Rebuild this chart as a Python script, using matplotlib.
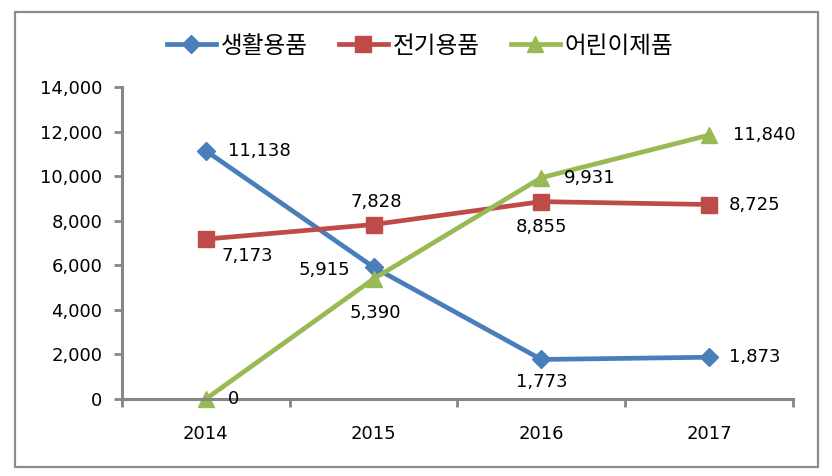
import matplotlib
matplotlib.use('Agg')
import matplotlib.pyplot as plt
from matplotlib.patches import Rectangle

plt.rcParams['font.family'] = ['Noto Sans CJK KR', 'DejaVu Sans']

years = ['2014', '2015', '2016', '2017']
daily = [11138, 5915, 1773, 1873]
electric = [7173, 7828, 8855, 8725]
kids = [0, 5390, 9931, 11840]
names = ['생활용품', '전기용품', '어린이제품']

# label offsets (points) for each data label
daily_off = [(16, 0, 'left', 'center'), (-17, -2, 'right', 'center'), (0, -10, 'center', 'top'), (14, 0, 'left', 'center')]
elec_off = [(11, -6, 'left', 'top'), (2, 10, 'center', 'bottom'), (0, -12, 'center', 'top'), (14, 0, 'left', 'center')]
kids_off = [(16, 0, 'left', 'center'), (1, -18, 'center', 'top'), (16, 0, 'left', 'center'), (17, 0, 'left', 'center')]

fig = plt.figure(figsize=(8.32, 4.76), dpi=100)
ax = fig.add_axes([0.1466, 0.1618, 0.8065, 0.6555])
fig.patches.append(Rectangle((15 / 832, 9 / 476), 803 / 832, 455 / 476, transform=fig.transFigure,
                             fill=False, edgecolor='#8c8c8c', linewidth=1.6))

x = range(len(years))
series = [(daily, '#4A7EBB', 'D', 9, daily_off),
          (electric, '#BE4B48', 's', 11, elec_off),
          (kids, '#98B954', '^', 12, kids_off)]
for (vals, col, mk, ms, offs), name in zip(series, names):
    ax.plot(x, vals, color=col, marker=mk, markersize=ms, linewidth=3.4, label=name)
    for i, v in enumerate(vals):
        dx, dy, ha, va = offs[i]
        ax.annotate(f'{v:,}', (i, v), xytext=(dx, dy), textcoords='offset points',
                    ha=ha, va=va, fontsize=13, family='DejaVu Sans')

ax.set_xlim(-0.5, 3.5)
ax.set_ylim(0, 14000)
ax.set_yticks(range(0, 14001, 2000))
ax.set_yticklabels([f'{t:,}' for t in range(0, 14001, 2000)], family='DejaVu Sans', fontsize=13)
ax.set_xticks(list(x))
ax.set_xticklabels(years, family='DejaVu Sans', fontsize=13)
ax.set_xticks([-0.5, 0.5, 1.5, 2.5, 3.5], minor=True)
ax.tick_params(axis='x', which='major', length=0, pad=19)
ax.tick_params(axis='x', which='minor', length=6, width=2, color='#868686')
ax.tick_params(axis='y', length=6, width=2, color='#868686', pad=8)
for s in ['top', 'right']:
    ax.spines[s].set_visible(False)
for s in ['left', 'bottom']:
    ax.spines[s].set_color('#868686')
    ax.spines[s].set_linewidth(2.2)
for ln in ax.lines:
    ln.set_clip_on(False)

fig.legend(*ax.get_legend_handles_labels(), loc='center', bbox_to_anchor=(0.505, 0.903), ncol=3,
           frameon=False, fontsize=17, handlelength=2.1, columnspacing=1.3, handletextpad=0.2)

fig.savefig('out.png', dpi=100)
